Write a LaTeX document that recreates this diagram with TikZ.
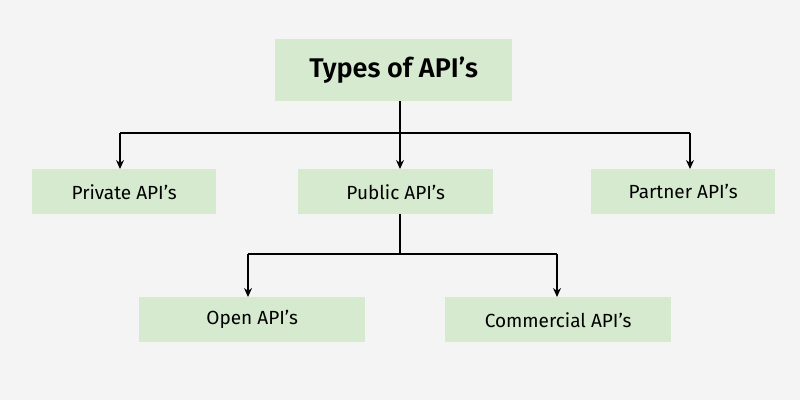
\documentclass[tikz,border=0pt]{standalone}
\usepackage{fontspec}
\setmainfont{Fira Sans}[BoldFont={Fira Sans SemiBold}]
\usetikzlibrary{arrows.meta}
\definecolor{bg}{HTML}{F4F4F4}
\definecolor{boxg}{HTML}{D6EACF}
\newcommand{\aps}{\char"27\relax}
\begin{document}
\begin{tikzpicture}[x=1pt,y=-1pt,
  box/.style={fill=boxg,draw=none,inner sep=0pt,anchor=north west},
  lbl/.style={font=\fontsize{19}{22}\selectfont},
  con/.style={line width=1.3pt,black},
  arr/.style={con,-{Stealth[length=9pt,width=8pt]}}]
\fill[bg] (0,0) rectangle (800,400);
\useasboundingbox (0,0) rectangle (800,400);
\node[box,minimum width=237pt,minimum height=62pt,font=\bfseries\fontsize{27}{32}\selectfont] (t) at (275,39) {Types of API\aps s};
\node[box,lbl,minimum width=184pt,minimum height=45pt] (pr) at (32,169) {Private API\aps s};
\node[box,lbl,minimum width=195pt,minimum height=45pt] (pu) at (298,169) {Public API\aps s};
\node[box,lbl,minimum width=184pt,minimum height=45pt] (pa) at (591,169) {Partner API\aps s};
\node[box,lbl,minimum width=226pt,minimum height=45pt] (op) at (139,297) {Open API\aps s};
\node[box,lbl,minimum width=226pt,minimum height=45pt] (co) at (445,297) {Commercial API\aps s};
\coordinate (j1) at (400,133);
\coordinate (j2) at (400,254);
\draw[con] (t.south -| j1) -- (j1);
\draw[con] (120,133) -- (690,133);
\draw[arr] (120,133) -- (pr.north -| 120,0);
\draw[arr] (j1) -- (pu.north -| j1);
\draw[arr] (690,133) -- (pa.north -| 690,0);
\draw[con] (pu.south -| j2) -- (j2);
\draw[con] (248,254) -- (557,254);
\draw[arr] (248,254) -- (op.north -| 248,0);
\draw[arr] (557,254) -- (co.north -| 557,0);
\end{tikzpicture}
\end{document}
